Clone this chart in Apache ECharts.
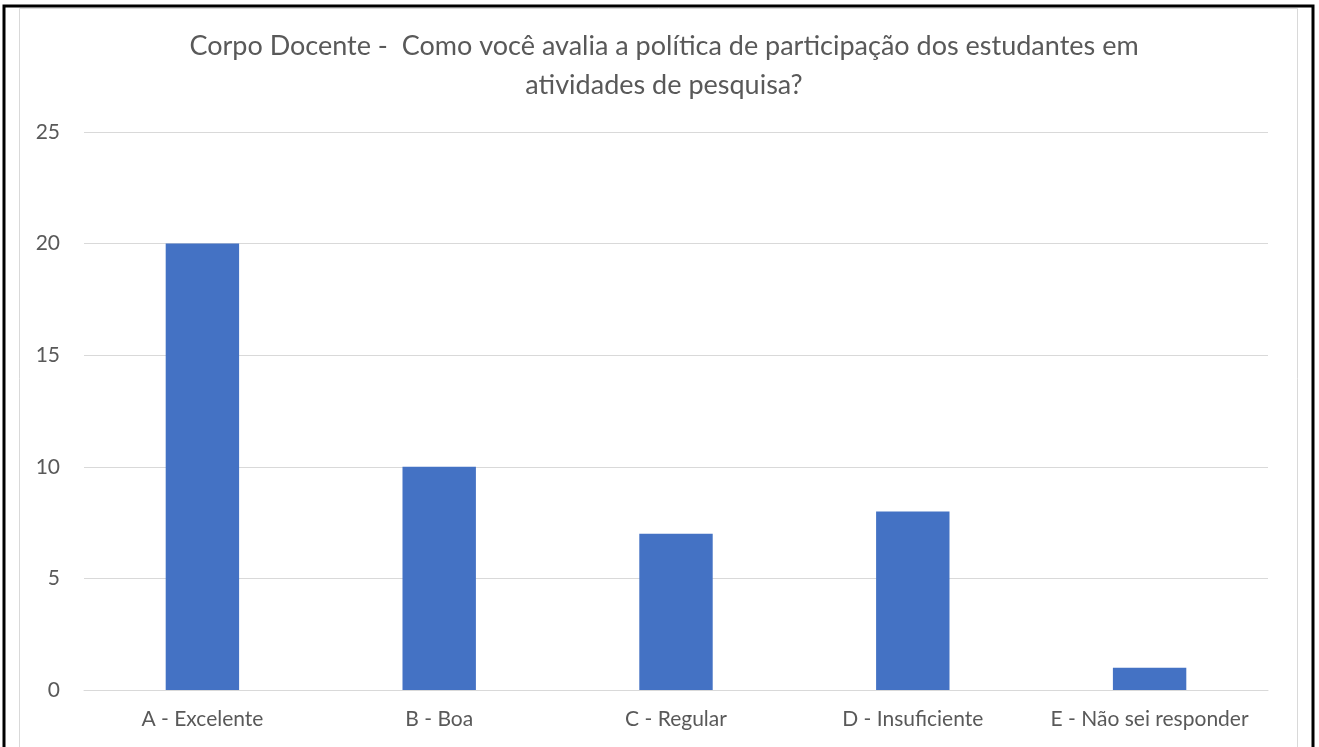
<!DOCTYPE html>
<html>
<head>
<meta charset="utf-8">
<script src="https://cdn.jsdelivr.net/npm/echarts@6/dist/echarts.min.js"></script>
<style>
  html, body { margin: 0; padding: 0; background: #fff; }
  #chart { width: 1319px; height: 747px; }
</style>
</head>
<body>
<div id="chart"></div>
<script>
const categories = ['A - Excelente', 'B - Boa', 'C - Regular', 'D - Insuficiente', 'E - Não sei responder']
const counts = [20, 10, 7, 8, 1]
const yTicks = { min: 0, max: 25, interval: 5 }
const titleText = 'Corpo Docente -  Como você avalia a política de participação dos estudantes em\natividades de pesquisa?'

const chart = echarts.init(document.getElementById('chart'))
chart.setOption({
  backgroundColor: '#fff',
  animation: false,
  textStyle: { fontFamily: 'Lato' },
  graphic: [
    // outer black frame
    { type: 'rect', shape: { x: 4, y: 6, width: 1309, height: 760 }, style: { fill: 'none', stroke: '#000', lineWidth: 3 } },
    // inner light frame
    { type: 'rect', shape: { x: 19.5, y: 8.5, width: 1278, height: 760 }, style: { fill: 'none', stroke: '#d9d9d9', lineWidth: 1 } }
  ],
  title: {
    text: titleText,
    left: 659,
    top: 22,
    textAlign: 'center',
    textStyle: {
      color: '#595959',
      fontSize: 27,
      fontWeight: 'normal',
      lineHeight: 39
    }
  },
  grid: {
    left: 84,
    right: 51,
    top: 132,
    bottom: 57,
    containLabel: false
  },
  xAxis: {
    type: 'category',
    data: categories,
    axisLine: { lineStyle: { color: '#d9d9d9', width: 1 } },
    axisTick: { show: false },
    axisLabel: { color: '#595959', fontSize: 21, margin: 19, interval: 0 }
  },
  yAxis: {
    type: 'value',
    min: yTicks.min,
    max: yTicks.max,
    interval: yTicks.interval,
    axisLine: { show: false },
    axisTick: { show: false },
    splitLine: { lineStyle: { color: '#d9d9d9', width: 1 } },
    axisLabel: { color: '#595959', fontSize: 21, margin: 24 }
  },
  series: [
    {
      type: 'bar',
      data: counts,
      barWidth: '31%',
      itemStyle: { color: '#4472c4' }
    }
  ]
})
</script>
</body>
</html>
